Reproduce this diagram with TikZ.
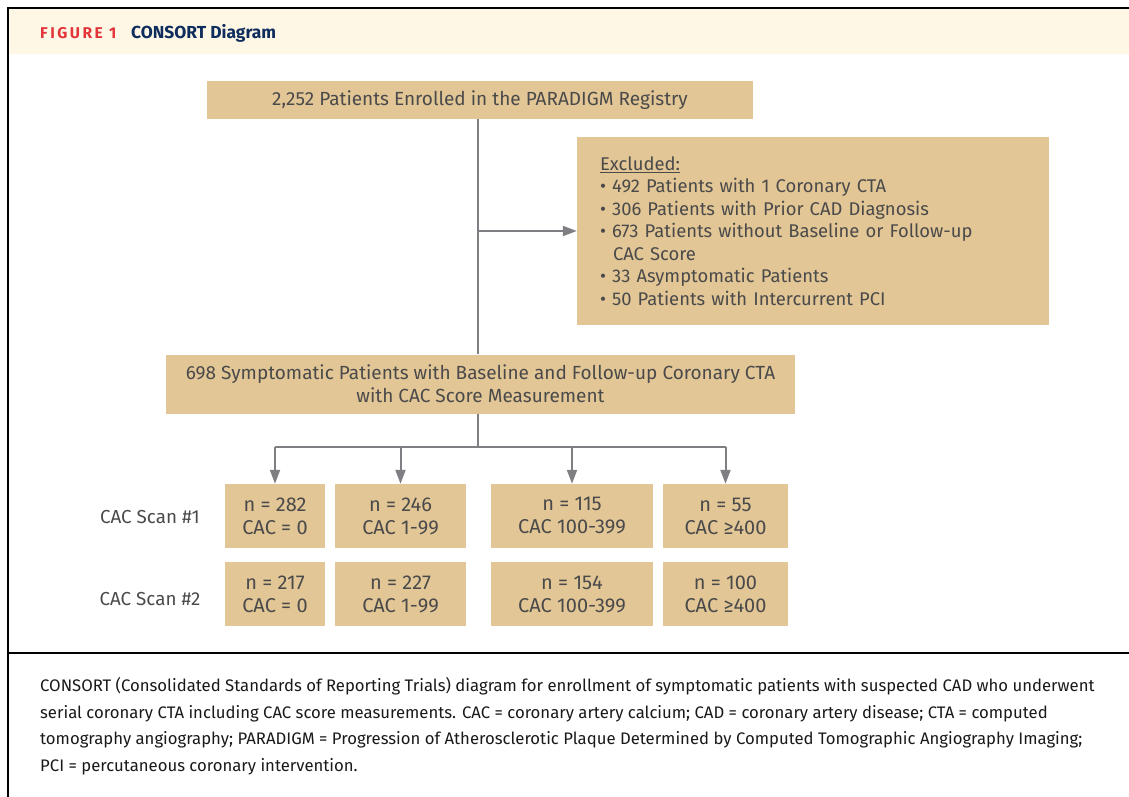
\documentclass[tikz,border=0pt]{standalone}
\usepackage{fontspec}
\setmainfont{Fira Sans}
\newfontfamily\figfont[LetterSpace=16]{Fira Sans Bold}
\usetikzlibrary{arrows.meta}
\definecolor{boxtan}{HTML}{E2C696}
\definecolor{headcream}{HTML}{FEF7E6}
\definecolor{figred}{HTML}{E3343A}
\definecolor{navy}{HTML}{0E2C5C}
\definecolor{linegray}{HTML}{7F7F83}
\definecolor{textgray}{HTML}{4A4A4A}
\begin{document}
\begin{tikzpicture}[x=1pt,y=-1pt,
  box/.style={fill=boxtan, text=textgray, inner sep=0pt, align=center,
    font=\fontsize{19}{23}\selectfont},
  catbox/.style={box, minimum height=64pt, font=\fontsize{20}{23}\selectfont},
  scanlabel/.style={text=textgray, font=\fontsize{18.8}{20}\selectfont},
  link/.style={draw=linegray, line width=2pt},
  arr/.style={link, -{Triangle[length=14pt,width=10pt]}}]
\useasboundingbox (0,0) rectangle (1129,797);

% Frame and header
\fill[headcream] (9,9) rectangle (1129,54);
\draw[line width=2pt] (1129,8) -- (8,8) -- (8,797);
\draw[line width=2pt] (8,653) -- (1129,653);
\node[anchor=base west, inner sep=0pt, text=figred, font=\figfont\fontsize{15.6}{17}\selectfont] (fig) at (40,38.5) {FIGURE 1};
\node[anchor=base west, inner sep=0pt, text=navy, font=\bfseries\fontsize{17.4}{19}\selectfont] (title) at (131,38.5) {CONSORT Diagram};

% Enrollment and exclusion
\node[box, minimum width=546pt, minimum height=38pt] (top) at (480,100) {2,252 Patients Enrolled in the PARADIGM Registry};
\node[box, minimum width=472pt, minimum height=188pt, text width=426pt, align=left,
  font=\fontsize{18.4}{22.5}\selectfont] (excl) at (813,231) {%
  \underline{Excluded:}\\
  \textbullet\ 492 Patients with 1 Coronary CTA\\
  \textbullet\ 306 Patients with Prior CAD Diagnosis\\
  \textbullet\ 673 Patients without Baseline or Follow-up\\
  \hspace*{13pt}CAC Score\\
  \textbullet\ 33 Asymptomatic Patients\\
  \textbullet\ 50 Patients with Intercurrent PCI};
\node[box, minimum width=629pt, minimum height=59pt] (mid) at (480.5,384) {698 Symptomatic Patients with Baseline and Follow-up Coronary CTA\\with CAC Score Measurement};

\draw[link] ([xshift=-2pt]top.south) -- ([xshift=-2.5pt]mid.north);
\draw[arr] ([xshift=-2pt]top.south |- excl.west) -- (excl.west);

% CAC categories
\foreach \col/\cx/\bw/\first/\second/\cac in {a/275/100/282/217/CAC = 0, b/400.5/131/246/227/CAC 1-99, c/572/162/115/154/CAC 100-399, d/725.5/125/55/100/CAC ≥400} {
  \node[catbox, minimum width=\bw pt] (\col1) at (\cx,516) {n = \first\\\cac};
  \node[catbox, minimum width=\bw pt] (\col2) at (\cx,594) {n = \second\\\cac};
}
\node[scanlabel] (scan1) at (150,517) {CAC Scan \#1};
\node[scanlabel] (scan2) at (150,599) {CAC Scan \#2};

\coordinate (split) at (478,447);
\draw[link] ([xshift=-2.5pt]mid.south) -- (split);
\draw[link] (split -| a1.north) -- (split -| d1.north);
\foreach \col in {a,b,c,d}
  \draw[arr] (split -| \col1.north) -- (\col1.north);

% Caption
\node[anchor=north west, inner sep=0pt, align=left, text=black!90, font=\fontsize{16.7}{26.7}\selectfont] (caption) at (40,677) {CONSORT (Consolidated Standards of Reporting Trials) diagram for enrollment of symptomatic patients with suspected CAD who underwent\\
serial coronary CTA including CAC score measurements. CAC = coronary artery calcium; CAD = coronary artery disease; CTA = computed\\
tomography angiography; PARADIGM = Progression of Atherosclerotic Plaque Determined by Computed Tomographic Angiography Imaging;\\
PCI = percutaneous coronary intervention.};
\end{tikzpicture}
\end{document}
